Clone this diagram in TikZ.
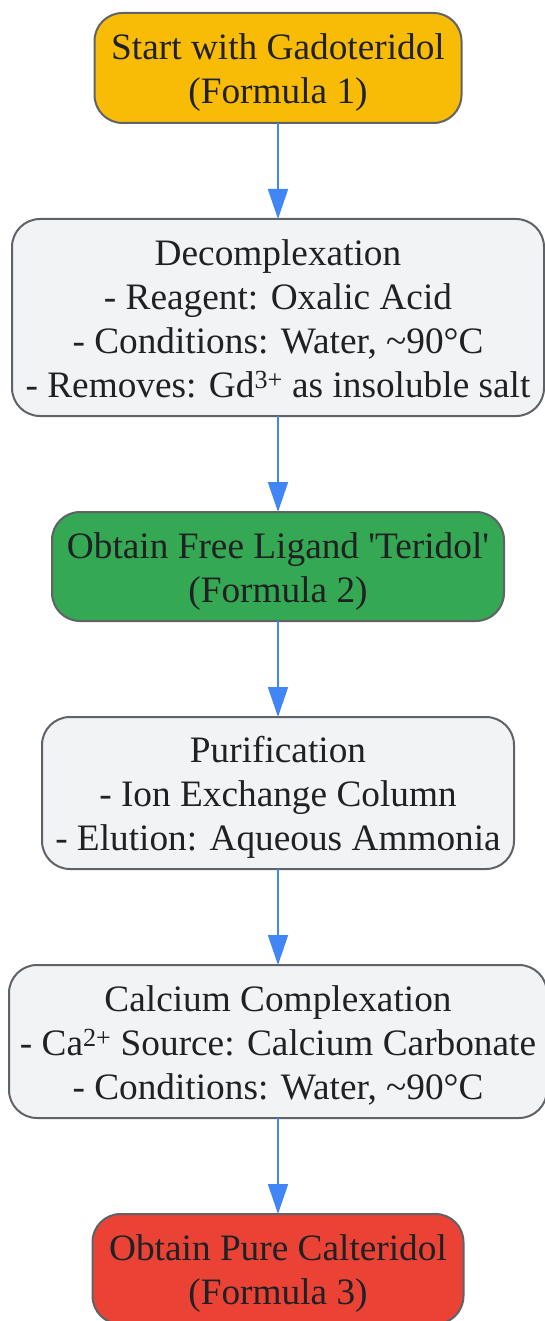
\documentclass[tikz,border=0pt]{standalone}
\usepackage{fontspec}
\setmainfont{Liberation Serif}
\usetikzlibrary{positioning, arrows.meta}

\definecolor{startyellow}{HTML}{F9BC06}
\definecolor{stepgray}{HTML}{F1F3F4}
\definecolor{ligandgreen}{HTML}{34A853}
\definecolor{endred}{HTML}{EA4335}
\definecolor{edgegray}{HTML}{5F6368}
\definecolor{flowblue}{HTML}{4285F4}
\definecolor{textdark}{HTML}{202124}

% fixed strut so that first and last lines sit the same in every box
\newcommand{\ls}{\rule[-8.2pt]{0pt}{43.8pt}}

\begin{document}
\begin{tikzpicture}[
    x=1pt, y=-1pt,
    node distance=96pt,
    every node/.style={font=\fontsize{37.3}{44}\selectfont, text=textdark},
    stage/.style={
        rectangle,
        draw=edgegray,
        line width=2pt,
        rounded corners=28pt,
        align=center,
        inner sep=0pt,
        outer sep=0pt
    },
    arrow/.style={
        -{Triangle[length=30pt,width=20pt]},
        line width=1.8pt,
        color=flowblue
    }
]
\useasboundingbox (0,0) rectangle (545,1321);

% Stages of the process
\node[stage, fill=startyellow, minimum width=367pt, minimum height=110pt] (start) at (278,68)
    {\ls Start with Gadoteridol\\(Formula 1)\ls};
\node[stage, fill=stepgray, minimum width=532pt, minimum height=197pt, below=of start] (decomp)
    {\ls Decomplexation\\- Reagent: Oxalic Acid\\- Conditions: Water, \textasciitilde90°C\\- Removes: Gd\textsuperscript{3+} as insoluble salt\ls};
\node[stage, fill=ligandgreen, minimum width=452pt, minimum height=109pt, below=of decomp] (ligand)
    {\ls Obtain Free Ligand \textquotesingle Teridol\textquotesingle\\(Formula 2)\ls};
\node[stage, fill=stepgray, minimum width=472pt, minimum height=152pt, below=of ligand] (purify)
    {\ls Purification\\- Ion Exchange Column\\- Elution: Aqueous Ammonia\ls};
\node[stage, fill=stepgray, minimum width=538pt, minimum height=153pt, below=of purify] (calcium)
    {\ls Calcium Complexation\\- Ca\textsuperscript{2+} Source: Calcium Carbonate\\- Conditions: Water, \textasciitilde90°C\ls};
\node[stage, fill=endred, minimum width=371pt, minimum height=110pt, below=of calcium] (final)
    {\ls Obtain Pure Calteridol\\(Formula 3)\ls};

% Flow between stages
\draw[arrow] (start.south) -- (decomp.north);
\draw[arrow] (decomp.south) -- (ligand.north);
\draw[arrow] (ligand.south) -- (purify.north);
\draw[arrow] (purify.south) -- (calcium.north);
\draw[arrow] (calcium.south) -- (final.north);

\end{tikzpicture}
\end{document}
